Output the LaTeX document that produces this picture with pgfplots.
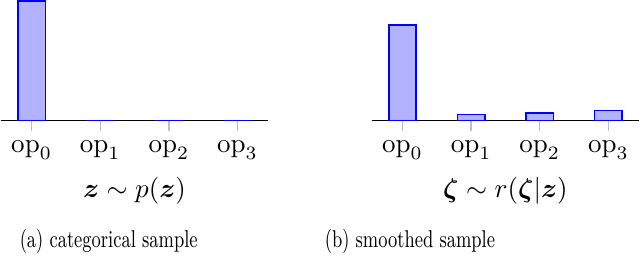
\documentclass[border=0pt]{standalone}
\usepackage{pgfplots}
\pgfplotsset{compat=1.18}
\usepackage{bm}
\pgfplotsset{myax/.style={
  scale only axis, width=99.1pt, height=44.3pt,
  ybar, bar width=10.2pt,
  axis x line*=bottom, axis y line=none,
  xmin=-0.45, xmax=3.45, ymin=0, ymax=1,
  xtick={0,1,2,3},
  xticklabels={$\mathrm{op}_0$,$\mathrm{op}_1$,$\mathrm{op}_2$,$\mathrm{op}_3$},
  major tick length=4pt, xtick align=outside,
  x tick style={gray!50, line width=0.5pt},
  axis line style={line width=0.5pt},
  clip=false,
  every axis plot/.append style={draw=blue, fill=blue!30, line width=0.6pt},
}}
\begin{document}
\begin{tikzpicture}
\begin{axis}[myax, at={(0pt,0pt)}, xlabel={$\bm{z}\sim p(\bm{z})$}]
\addplot coordinates {(0,1) (1,0) (2,0) (3,0)};
\end{axis}
\begin{axis}[myax, at={(137.3pt,0pt)}, xlabel={$\bm{\zeta}\sim r(\bm{\zeta}|\bm{z})$}]
\addplot coordinates {(0,0.8) (1,0.05) (2,0.065) (3,0.085)};
\end{axis}
\node[anchor=base, xscale=0.74, transform shape, font=\rmfamily\fontsize{9}{11}\selectfont] at (40pt,-47.1pt) {(a) categorical sample};
\node[anchor=base, xscale=0.74, transform shape, font=\rmfamily\fontsize{9}{11}\selectfont] at (151.5pt,-47.1pt) {(b) smoothed sample};
\end{tikzpicture}
\end{document}
